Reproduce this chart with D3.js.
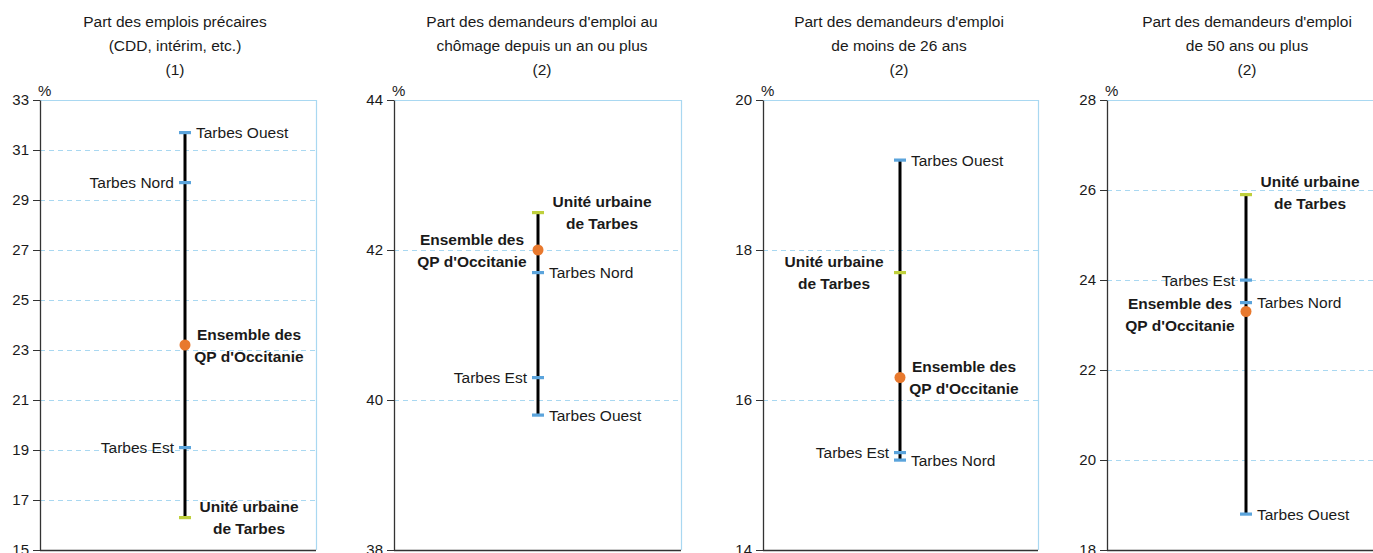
<!DOCTYPE html>
<html><head><meta charset="utf-8">
<script src="https://cdn.jsdelivr.net/npm/d3@7"></script>
<style>
html,body{margin:0;padding:0;background:#fff;}
svg{display:block;font-family:"Liberation Sans",Arial,Helvetica,sans-serif;}
</style></head>
<body><svg id="chart" width="1373" height="553"></svg>
<script>
// ---- DATA ----
const categories = ["Tarbes Est", "Tarbes Nord", "Tarbes Ouest", "Unité urbaine de Tarbes", "Ensemble des QP d'Occitanie"];
const categoryLabelLines = [["Tarbes Est"], ["Tarbes Nord"], ["Tarbes Ouest"], ["Unité urbaine", "de Tarbes"], ["Ensemble des", "QP d'Occitanie"]];
const categoryKinds = ["qp", "qp", "qp", "uu", "ens"];

const title1 = ["Part des emplois précaires", "(CDD, intérim, etc.)", "(1)"];
const title2 = ["Part des demandeurs d'emploi au", "chômage depuis un an ou plus", "(2)"];
const title3 = ["Part des demandeurs d'emploi", "de moins de 26 ans", "(2)"];
const title4 = ["Part des demandeurs d'emploi", "de 50 ans ou plus", "(2)"];

const valuesEmploisPrecaires = [19.1, 29.7, 31.7, 16.3, 23.2];
const valuesChomageLongue   = [40.3, 41.7, 39.8, 42.5, 42.0];
const valuesMoins26         = [15.3, 15.2, 19.2, 17.7, 16.3];
const valuesPlus50          = [24.0, 23.5, 18.8, 25.9, 23.3];

const ticks1 = [15, 17, 19, 21, 23, 25, 27, 29, 31, 33];
const ticks2 = [38, 40, 42, 44];
const ticks3 = [14, 16, 18, 20];
const ticks4 = [18, 20, 22, 24, 26, 28];

const unitLabel = "%";

// ---- LAYOUT (positions / styles) ----
const yTop = 100, yBottom = 550;
const panels = [
  {title: title1, values: valuesEmploisPrecaires, ticks: ticks1, x0: 40,  x1: 316,  lineX: 185, titleX: 175,
   sides: ["L", "L", "R", "R", "R"], dys: [0, 0, 0, 0, 0]},
  {title: title2, values: valuesChomageLongue, ticks: ticks2, x0: 394, x1: 681,  lineX: 538, titleX: 542,
   sides: ["L", "R", "R", "R", "L"], dys: [0, 0, 0, 0, 0]},
  {title: title3, values: valuesMoins26, ticks: ticks3, x0: 763, x1: 1038, lineX: 900, titleX: 899,
   sides: ["L", "R", "R", "L", "R"], dys: [0, 0, 0, 0, 0]},
  {title: title4, values: valuesPlus50, ticks: ticks4, x0: 1107, x1: 1390, lineX: 1246, titleX: 1247,
   sides: ["L", "R", "R", "R", "L"], dys: [0, 0, 0, -2, 3]}
];
const colors = {qp: "#5ba4dc", uu: "#bfd03c", ens: "#e8792e", grid: "#a9d8f1", axis: "#333333", text: "#1a1a1a"};

const svg = d3.select("#chart");

panels.forEach(p => {
  const y = d3.scaleLinear().domain(d3.extent(p.ticks)).range([yBottom, yTop]);
  const g = svg.append("g");

  // title
  const t = g.append("text").attr("text-anchor", "middle").attr("fill", colors.text)
    .style("font-size", "15.5px");
  p.title.forEach((line, i) => {
    t.append("tspan").attr("x", p.titleX).attr("y", 26.5 + i * 24).text(line);
  });

  // grid lines (dashed), excluding top and bottom
  g.selectAll("line.grid").data(p.ticks.filter(v => v !== d3.min(p.ticks) && v !== d3.max(p.ticks)))
    .enter().append("line").attr("class", "grid")
    .attr("x1", p.x0).attr("x2", p.x1)
    .attr("y1", d => y(d) + 0.5).attr("y2", d => y(d) + 0.5)
    .attr("stroke", colors.grid).attr("stroke-width", 1).attr("stroke-dasharray", "5,4");

  // top and right borders
  g.append("line").attr("x1", p.x0).attr("x2", p.x1).attr("y1", yTop + 0.5).attr("y2", yTop + 0.5)
    .attr("stroke", colors.grid).attr("stroke-width", 1.2);
  g.append("line").attr("x1", p.x1 + 0.5).attr("x2", p.x1 + 0.5).attr("y1", yTop).attr("y2", yBottom)
    .attr("stroke", colors.grid).attr("stroke-width", 1.2);

  // bottom axis line
  g.append("line").attr("x1", p.x0).attr("x2", p.x1).attr("y1", yBottom + 0.5).attr("y2", yBottom + 0.5)
    .attr("stroke", colors.axis).attr("stroke-width", 1.5);

  // left axis
  const axis = d3.axisLeft(y).tickValues(p.ticks).tickFormat(d3.format("d")).tickSizeInner(7).tickSizeOuter(0).tickPadding(4);
  const ag = g.append("g").attr("transform", `translate(${p.x0},0)`).call(axis);
  ag.select(".domain").attr("stroke", colors.axis).attr("stroke-width", 1.3);
  ag.selectAll(".tick line").attr("stroke", colors.axis);
  ag.selectAll(".tick text").attr("fill", colors.text).style("font-size", "15px")
    .style("font-family", "'Liberation Sans',Arial,sans-serif");

  // unit
  g.append("text").attr("x", p.x0 - 2).attr("y", 96).attr("fill", colors.text)
    .style("font-size", "15px").text(unitLabel);

  // range line
  const ext = d3.extent(p.values);
  g.append("line").attr("x1", p.lineX).attr("x2", p.lineX)
    .attr("y1", y(ext[0])).attr("y2", y(ext[1]))
    .attr("stroke", "#000").attr("stroke-width", 3);

  // markers
  const items = p.values.map((v, i) => ({v, i, kind: categoryKinds[i], lines: categoryLabelLines[i], side: p.sides[i], dy: p.dys[i]}));
  items.filter(d => d.kind !== "ens").forEach(d => {
    g.append("rect").attr("x", p.lineX - 6).attr("y", y(d.v) - 1.5).attr("width", 12).attr("height", 3.2)
      .attr("fill", d.kind === "uu" ? colors.uu : colors.qp);
  });
  items.filter(d => d.kind === "ens").forEach(d => {
    g.append("circle").attr("cx", p.lineX).attr("cy", y(d.v)).attr("r", 5.5).attr("fill", colors.ens);
  });

  // labels
  items.forEach(d => {
    const cy = y(d.v) + d.dy;
    if (d.lines.length === 1) {
      g.append("text")
        .attr("x", d.side === "R" ? p.lineX + 11 : p.lineX - 11)
        .attr("y", cy).attr("dy", "0.36em")
        .attr("text-anchor", d.side === "R" ? "start" : "end")
        .attr("fill", colors.text).style("font-size", "15.5px").text(d.lines[0]);
    } else {
      const cx = d.side === "R" ? p.lineX + 64 : p.lineX - 66;
      const tx = g.append("text").attr("text-anchor", "middle").attr("fill", colors.text)
        .style("font-size", "15.5px").style("font-weight", "bold");
      d.lines.forEach((ln, k) => {
        tx.append("tspan").attr("x", cx).attr("y", cy + (k - 0.5) * 22).attr("dy", "0.36em").text(ln);
      });
    }
  });
});
</script></body></html>
